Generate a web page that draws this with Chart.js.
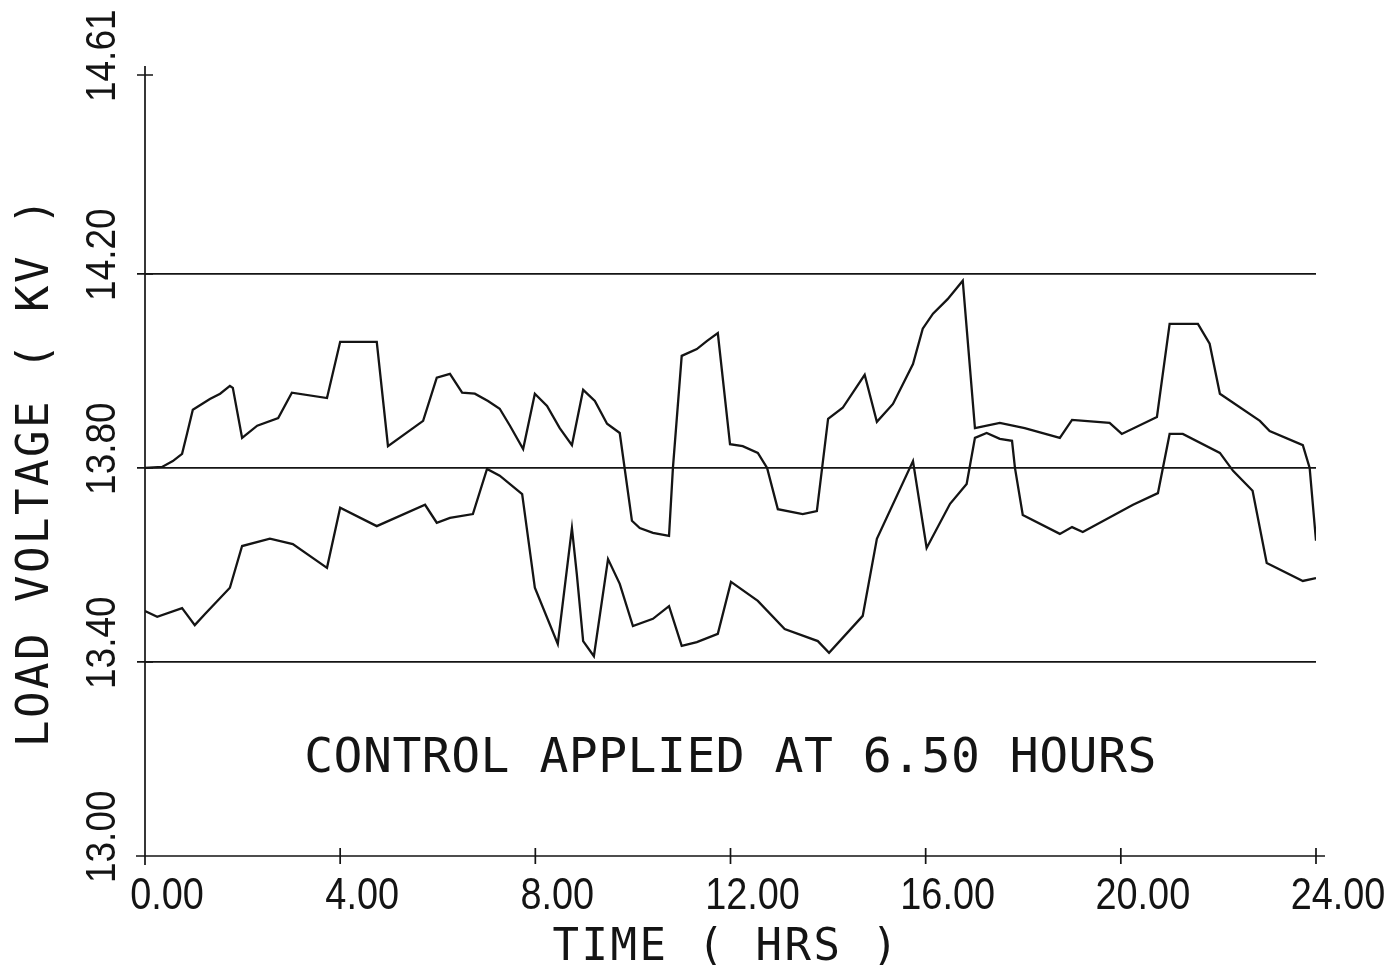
<!DOCTYPE html>
<html><head><meta charset="utf-8">
<script src="https://cdn.jsdelivr.net/npm/chart.js@4.4.1/dist/chart.umd.min.js"></script>
<style>html,body{margin:0;padding:0;background:#fff;} #wrap{width:1392px;height:965px;}</style>
</head><body><div id="wrap"><canvas id="c" width="1392" height="965"></canvas></div>
<script>
// ---- data (hours, kV) ----
const upperHours = [0.00,0.35,0.57,0.76,0.86,0.98,1.33,1.54,1.74,1.80,1.99,2.30,2.73,3.01,3.73,4.00,4.75,4.98,5.70,5.98,6.25,6.50,6.76,7.03,7.27,7.48,7.75,7.99,8.24,8.50,8.75,8.98,9.22,9.47,9.73,9.98,10.14,10.41,10.74,10.82,11.00,11.31,11.52,11.74,11.99,12.25,12.56,12.75,12.97,13.48,13.77,14.00,14.30,14.75,15.00,15.33,15.74,15.94,16.15,16.45,16.76,17.01,17.52,18.03,18.75,19.00,19.77,20.02,20.74,21.00,21.58,21.82,22.03,22.85,23.05,23.73,23.87,24.00];
const upperKV = [13.800,13.802,13.814,13.829,13.870,13.920,13.942,13.953,13.969,13.965,13.862,13.887,13.903,13.955,13.944,14.060,14.060,13.845,13.897,13.986,13.994,13.955,13.953,13.938,13.922,13.887,13.839,13.953,13.928,13.882,13.847,13.961,13.938,13.891,13.872,13.691,13.676,13.666,13.660,13.800,14.031,14.045,14.062,14.078,13.849,13.845,13.831,13.800,13.715,13.705,13.711,13.901,13.924,13.992,13.895,13.932,14.014,14.087,14.118,14.148,14.186,13.882,13.893,13.882,13.862,13.899,13.893,13.870,13.905,14.097,14.097,14.056,13.953,13.897,13.876,13.847,13.800,13.650];
const lowerHours = [0.00,0.25,0.76,1.02,1.23,1.74,1.99,2.56,3.03,3.73,4.00,4.75,5.74,5.98,6.25,6.72,7.01,7.27,7.73,7.99,8.46,8.75,8.85,8.98,9.20,9.49,9.73,10.00,10.41,10.74,11.00,11.31,11.74,12.01,12.56,13.11,13.79,14.02,14.71,15.00,15.74,16.02,16.50,16.84,17.01,17.25,17.52,17.77,17.83,17.99,18.75,19.00,19.22,20.25,20.76,21.00,21.27,22.03,22.30,22.70,22.99,23.73,24.00];
const lowerKV = [13.505,13.493,13.511,13.476,13.499,13.553,13.639,13.654,13.643,13.594,13.718,13.680,13.724,13.687,13.697,13.705,13.798,13.784,13.746,13.553,13.437,13.676,13.581,13.443,13.412,13.612,13.561,13.474,13.489,13.515,13.433,13.441,13.458,13.565,13.526,13.468,13.443,13.419,13.495,13.654,13.814,13.635,13.726,13.767,13.862,13.872,13.860,13.856,13.800,13.703,13.664,13.678,13.668,13.724,13.748,13.870,13.870,13.831,13.794,13.753,13.604,13.567,13.573];

const xTickValues = [0,4,8,12,16,20,24];
const xTickLabels = ['0.00','4.00','8.00','12.00','16.00','20.00','24.00'];
const yTickValues = [13.00,13.40,13.80,14.20,14.61];
const yTickLabels = ['13.00','13.40','13.80','14.20','14.61'];
const limitLines = [13.40,13.80,14.20];
const xTitle = 'TIME ( HRS )';
const yTitle = 'LOAD VOLTAGE ( KV )';
const noteText = 'CONTROL APPLIED AT 6.50 HOURS';
const noteHour = 12;
const noteKV = 13.173;

const INK = '#141414';
const MONO = '"DejaVu Sans Mono", "Liberation Mono", monospace';
const SANS = '"Liberation Sans Narrow", "Liberation Sans", sans-serif';

const toPoints = (xs, ys) => xs.map((h, i) => ({x: h, y: ys[i]}));

function spaced(ctx, px) { try { ctx.letterSpacing = px + 'px'; } catch (e) {} }

const decor = {
  id: 'decor',
  afterDraw(chart) {
    const {ctx, scales: {x, y}, chartArea: a} = chart;
    ctx.save();
    // axes with plotter-style "+" ticks
    ctx.strokeStyle = INK; ctx.lineWidth = 1.7; ctx.lineCap = 'butt';
    ctx.beginPath();
    ctx.moveTo(a.left, a.top - 9); ctx.lineTo(a.left, a.bottom + 9);
    ctx.moveTo(a.left - 9, a.bottom); ctx.lineTo(a.right + 9, a.bottom);
    y.ticks.forEach(t => { const py = y.getPixelForValue(t.value); ctx.moveTo(a.left - 8, py); ctx.lineTo(a.left + 8, py); });
    x.ticks.forEach(t => { const px = x.getPixelForValue(t.value); ctx.moveTo(px, a.bottom - 8); ctx.lineTo(px, a.bottom + 8); });
    ctx.stroke();
    ctx.fillStyle = INK;

    // y tick labels (rotated, reading upward, starting just below the tick)
    ctx.font = '42px ' + SANS;
    ctx.textAlign = 'left'; ctx.textBaseline = 'alphabetic';
    y.ticks.forEach((t, i) => {
      const py = y.getPixelForValue(t.value);
      ctx.save(); ctx.translate(a.left - 30, py + 27); ctx.rotate(-Math.PI / 2); ctx.scale(0.88, 1);
      ctx.fillText(yTickLabels[i], 0, 0); ctx.restore();
    });

    // x tick labels
    ctx.font = '44px ' + SANS;
    ctx.textAlign = 'center';
    x.ticks.forEach((t, i) => {
      const px = x.getPixelForValue(t.value);
      ctx.save(); ctx.translate(px + 22, a.bottom + 53); ctx.scale(0.86, 1);
      ctx.fillText(xTickLabels[i], 0, 0); ctx.restore();
    });

    // axis titles
    ctx.font = '44px ' + MONO;
    spaced(ctx, 2.5);
    ctx.textAlign = 'center';
    ctx.fillText(xTitle, (a.left + a.right) / 2 - 4, 960);
    ctx.save(); ctx.translate(48, (a.top + a.bottom) / 2 + 6); ctx.rotate(-Math.PI / 2);
    ctx.fillText(yTitle, 0, 0); ctx.restore();

    // annotation
    spaced(ctx, 0.5);
    ctx.font = '48px ' + MONO;
    ctx.fillText(noteText, x.getPixelForValue(noteHour), y.getPixelForValue(noteKV));
    ctx.restore();
  }
};

new Chart(document.getElementById('c'), {
  type: 'line',
  data: {
    datasets: [
      {data: toPoints(upperHours, upperKV), borderColor: INK, borderWidth: 2.3, pointRadius: 0, tension: 0, fill: false},
      {data: toPoints(lowerHours, lowerKV), borderColor: INK, borderWidth: 2.3, pointRadius: 0, tension: 0, fill: false}
    ]
  },
  options: {
    responsive: false, animation: false, devicePixelRatio: 1,
    layout: {padding: {left: 0, right: 76, top: 75, bottom: 0}},
    plugins: {legend: {display: false}, tooltip: {enabled: false}},
    scales: {
      x: {
        type: 'linear', min: 0, max: 24,
        afterBuildTicks: s => { s.ticks = xTickValues.map(v => ({value: v})); },
        afterFit: s => { s.height = 109; },
        grid: {display: false, drawTicks: false}, border: {display: false},
        ticks: {display: false},
        title: {display: false, text: xTitle}
      },
      y: {
        type: 'linear', min: 13.00, max: 14.61,
        afterBuildTicks: s => { s.ticks = yTickValues.map(v => ({value: v})); },
        afterFit: s => { s.width = 145; },
        grid: {drawTicks: false, lineWidth: 1.7, color: c => (c.tick && limitLines.includes(c.tick.value)) ? INK : 'rgba(0,0,0,0)'},
        border: {display: false},
        ticks: {display: false},
        title: {display: false, text: yTitle}
      }
    }
  },
  plugins: [decor]
});
</script></body></html>
